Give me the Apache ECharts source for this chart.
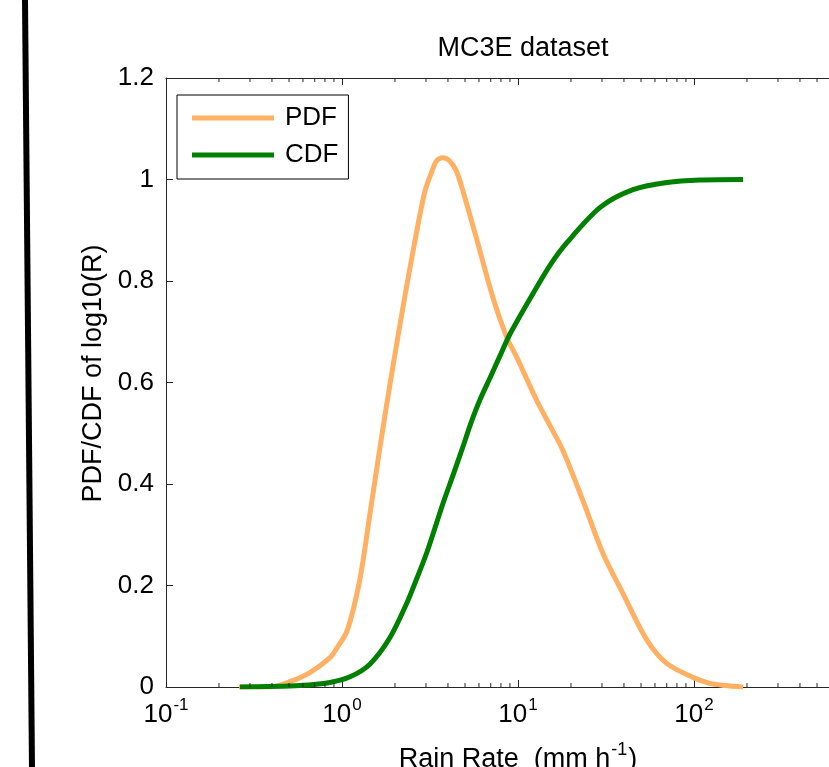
<!DOCTYPE html>
<html>
<head>
<meta charset="utf-8">
<title>MC3E dataset</title>
<script src="https://cdn.jsdelivr.net/npm/echarts@6/dist/echarts.min.js"></script>
<style>
  html, body { margin: 0; padding: 0; background: #fff; }
  #chart { width: 829px; height: 767px; }
</style>
</head>
<body>
<div id="chart"></div>
<script>
// rain rate (mm/h) and PDF of log10(R)
var pdfRate  = [0.26, 0.39, 0.51, 0.66, 0.855, 0.94, 1.07, 1.26, 1.44, 1.64, 1.88, 2.25, 2.6, 2.96, 3.25, 3.45, 3.75, 4.05, 4.45, 4.87, 5.85, 7.21, 8.66, 9.86, 12.8, 15.2, 18.0, 23.4, 30.4, 39.5, 54.1, 70.3, 98.6, 123, 150, 190];
var pdfValue = [0, 0, 0.011, 0.029, 0.058, 0.078, 0.111, 0.21, 0.34, 0.47, 0.60, 0.76, 0.88, 0.977, 1.017, 1.037, 1.043, 1.038, 1.018, 0.977, 0.88, 0.767, 0.688, 0.649, 0.564, 0.515, 0.466, 0.367, 0.263, 0.184, 0.092, 0.046, 0.019, 0.007, 0.003, 0];

// rain rate (mm/h) and CDF
var cdfRate  = [0.263, 0.577, 0.855, 1.11, 1.44, 1.87, 2.34, 2.6, 3.04, 3.75, 4.3, 4.87, 5.4, 6.08, 6.93, 7.91, 9.02, 12.2, 15.2, 18.9, 29.3, 45.0, 70.3, 108, 190];
var cdfValue = [0, 0.003, 0.009, 0.02, 0.045, 0.097, 0.166, 0.205, 0.266, 0.362, 0.42, 0.474, 0.52, 0.566, 0.609, 0.653, 0.696, 0.776, 0.831, 0.875, 0.945, 0.98, 0.994, 0.999, 1.0];

// log axis minor ticks (2..9 per decade)
var minorTicks = [];
[0.1, 1, 10, 100].forEach(function (d) {
  for (var m = 2; m <= 9; m++) minorTicks.push([+(m * d).toPrecision(3), 0]);
});

var seriesNames = ['PDF', 'CDF'];
var FONT = 'Liberation Sans';

function zip(a, b) {
  return a.map(function (v, i) { return [v, b[i]]; });
}

var chart = echarts.init(document.getElementById('chart'), null, { renderer: 'canvas' });

var xTicks = {
  show: true,
  inside: true,
  length: 7,
  lineStyle: { color: '#262626', width: 1 }
};

chart.setOption({
  animation: false,
  backgroundColor: '#fff',
  title: {
    text: 'MC3E dataset',
    left: 518,
    top: 30,
    textAlign: 'center',
    textStyle: { fontFamily: FONT, fontSize: 27, fontWeight: 'normal', color: '#000' }
  },
  legend: {
    data: [
      { name: 'PDF', icon: 'rect', itemStyle: { color: '#FFB062' } },
      { name: 'CDF', icon: 'rect', itemStyle: { color: '#008000' } }
    ],
    orient: 'vertical',
    left: 177,
    top: 95,
    padding: [10, 10, 11, 15],
    itemWidth: 82,
    itemHeight: 5,
    itemGap: 11,
    borderColor: '#000',
    borderWidth: 1,
    borderRadius: 0,
    backgroundColor: '#fff',
    textStyle: { fontFamily: FONT, fontSize: 26, color: '#000', lineHeight: 26, padding: [0, 0, 0, 6] }
  },
  grid: {
    left: 166,
    top: 78,
    bottom: 80,
    right: -41,
    outerBoundsMode: 'none',
    containLabel: false
  },
  xAxis: [
    {
      type: 'log',
      logBase: 10,
      min: 0.1,
      max: 1000,
      position: 'bottom',
      splitNumber: 4,
      axisLine: { lineStyle: { color: '#262626', width: 1 } },
      axisTick: xTicks,
      splitLine: { show: false },
      axisLabel: {
        margin: 10,
        color: '#000',
        formatter: function (v) {
          return '{b|10}{s|' + Math.round(Math.log10(v)) + '}';
        },
        rich: {
          b: { fontFamily: FONT, fontSize: 26, color: '#000', lineHeight: 36 },
          s: { fontFamily: FONT, fontSize: 17, color: '#000', verticalAlign: 'top', lineHeight: 17, padding: [0, 0, 0, 1] }
        }
      },
      name: '{b|Rain Rate  (mm h}{s|-1}{b|)}',
      nameLocation: 'middle',
      nameGap: 54,
      nameTextStyle: {
        fontFamily: FONT,
        fontSize: 27,
        color: '#000',
        rich: {
          b: { fontFamily: FONT, fontSize: 27, color: '#000', lineHeight: 37 },
          s: { fontFamily: FONT, fontSize: 18, color: '#000', verticalAlign: 'top', lineHeight: 18, padding: [0, 1, 0, 1] }
        }
      }
    },
    {
      type: 'log',
      logBase: 10,
      min: 0.1,
      max: 1000,
      position: 'top',
      splitNumber: 4,
      axisLine: { lineStyle: { color: '#262626', width: 1 } },
      axisTick: xTicks,
      axisLabel: { show: false },
      splitLine: { show: false }
    }
  ],
  yAxis: {
    type: 'value',
    min: 0,
    max: 1.2,
    interval: 0.2,
    axisLine: { show: true, lineStyle: { color: '#262626', width: 1 } },
    axisTick: { show: true, inside: true, length: 7, lineStyle: { color: '#262626', width: 1 } },
    splitLine: { show: false },
    axisLabel: { margin: 12, fontFamily: FONT, fontSize: 26, color: '#000' },
    name: 'PDF/CDF of log10(R)',
    nameLocation: 'middle',
    nameGap: 58,
    nameTextStyle: { fontFamily: FONT, fontSize: 27, color: '#000', padding: [0, 0, 0, 18] }
  },
  series: [
    {
      name: 'PDF',
      type: 'line',
      data: zip(pdfRate, pdfValue),
      symbol: 'none',
      smooth: 0.3,
      lineStyle: { color: '#FFB062', width: 5 },
      itemStyle: { color: '#FFB062' },
      z: 3
    },
    {
      name: 'CDF',
      type: 'line',
      data: zip(cdfRate, cdfValue),
      symbol: 'none',
      smooth: 0.3,
      lineStyle: { color: '#008000', width: 5 },
      itemStyle: { color: '#008000' },
      z: 4
    },
    {
      name: 'minor ticks',
      type: 'custom',
      silent: true,
      clip: false,
      data: minorTicks,
      z: 5,
      renderItem: function (params, api) {
        var v = api.value(0);
        var b = api.coord([v, 0]);
        var t = api.coord([v, 1.2]);
        var st = { stroke: '#262626', lineWidth: 1 };
        return {
          type: 'group',
          children: [
            { type: 'line', shape: { x1: b[0], y1: b[1], x2: b[0], y2: b[1] - 4 }, style: st },
            { type: 'line', shape: { x1: t[0], y1: t[1], x2: t[0], y2: t[1] + 4 }, style: st }
          ]
        };
      }
    }
  ],
  graphic: [
    {
      type: 'line',
      shape: { x1: 25, y1: 0, x2: 32, y2: 767 },
      style: { stroke: '#000', lineWidth: 6 }
    }
  ]
});
</script>
</body>
</html>
